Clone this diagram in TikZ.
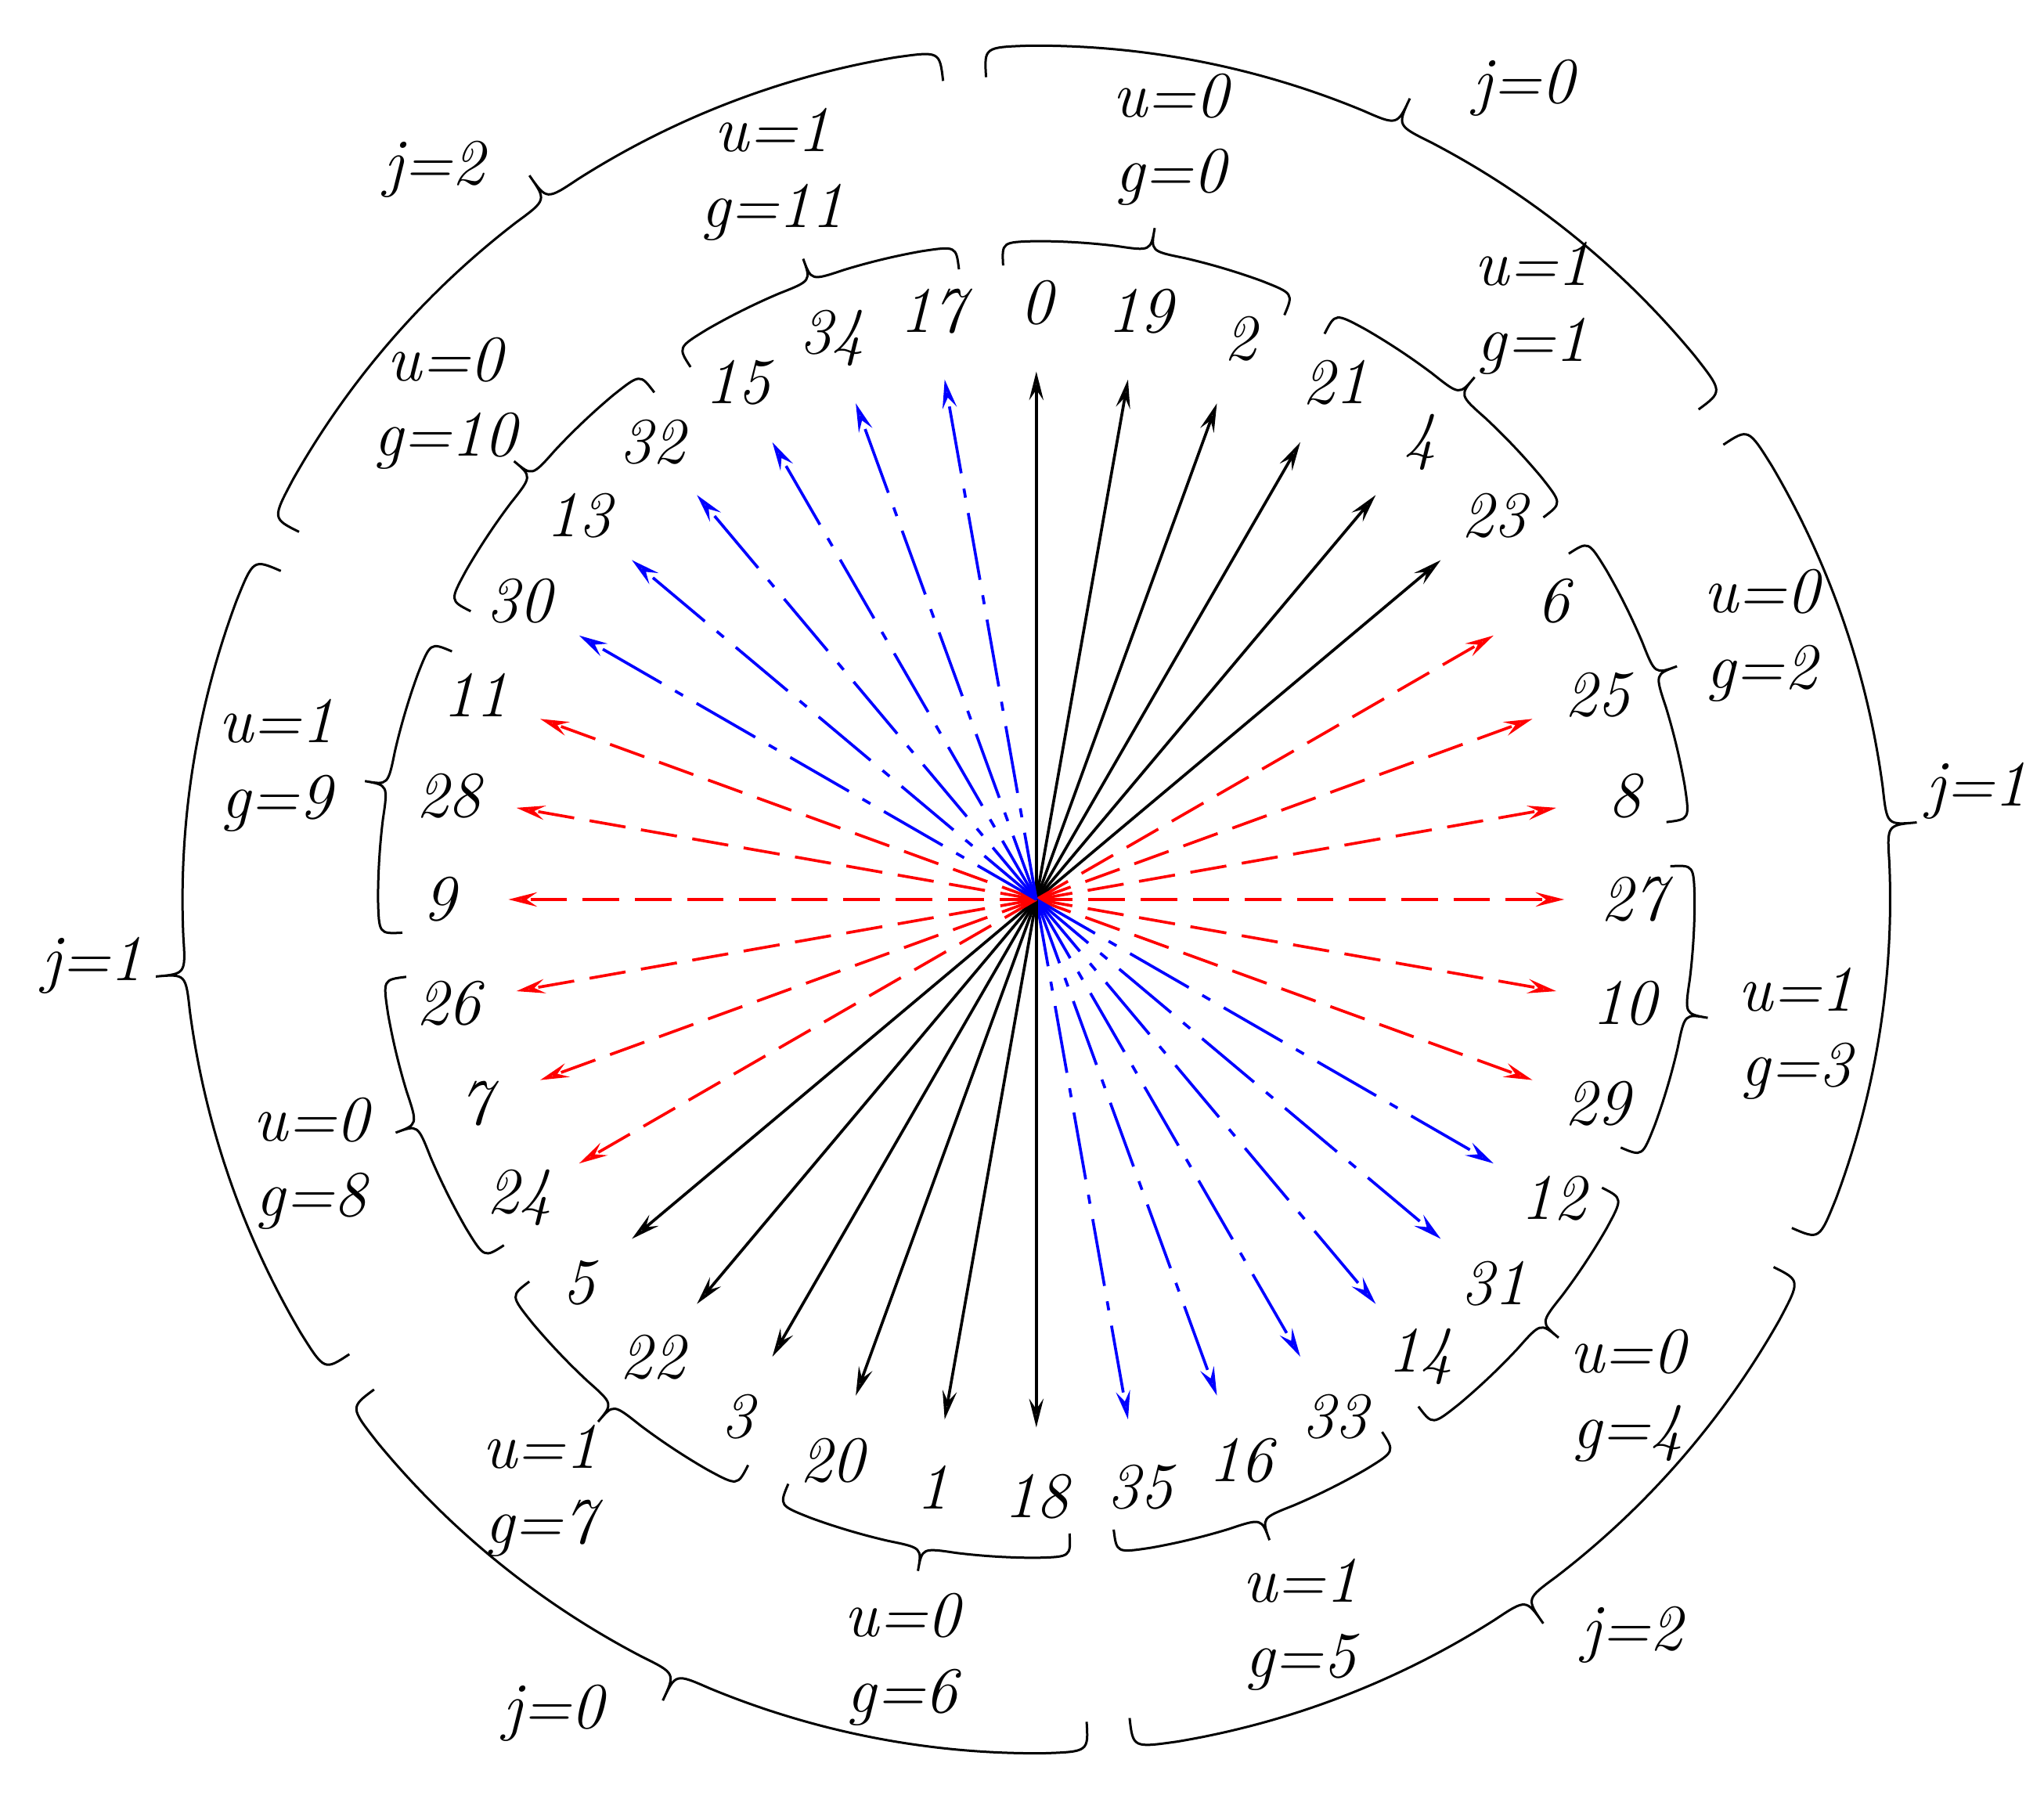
\documentclass[tikz,border=0pt]{standalone}
\usetikzlibrary{arrows.meta}
\begin{document}
\begin{tikzpicture}[x=1pt,y=1pt,
  arr/.style={line width=2.2pt,-{Stealth[length=22pt,width=11pt,inset=8pt,open]}},
  st0/.style={arr,black},
  st1/.style={arr,red,dash pattern=on 28pt off 12pt},
  st2/.style={arr,blue,dash pattern=on 52pt off 12pt on 7pt off 12pt},
  lab/.style={font=\fontsize{50}{58}\selectfont\itshape,inner sep=0pt},
  brc/.style={line width=1.8pt,black}]
\useasboundingbox (-795pt,-690pt) rectangle (773pt,690pt);
\coordinate (O) at (0,0);
\foreach \n [count=\k from 0] in {0,19,2,21,4,23,6,25,8,27,10,29,12,31,14,33,16,35,18,1,20,3,22,5,24,7,26,9,28,11,30,13,32,15,34,17}{
  \pgfmathsetmacro\ang{90-10*\k}
  \pgfmathtruncatemacro\grp{mod(int(\k/6),3)}
  \coordinate (a\n) at (\ang:405pt);
  \draw[st\grp] (O) -- (a\n);
  \node[lab] (t\n) at (\ang:458pt) {\n};
}
% inner braces
\foreach \i in {0,...,11}{
  \pgfmathsetmacro\m{80-30*\i}
  \pgfmathsetmacro\aa{\m+13}\pgfmathsetmacro\ab{\m+10}
  \pgfmathsetmacro\bb{\m-13}\pgfmathsetmacro\ba{\m-10}
  \pgfmathsetmacro\mp{\m+3}\pgfmathsetmacro\mm{\m-3}
  \pgfmathtruncatemacro\u{mod(\i,2)}
  \draw[brc] (\aa:487pt) .. controls (\aa:505pt) .. (\ab:505pt)
    arc[start angle=\ab,end angle=\mp,radius=505pt]
    .. controls (\m:505pt) .. (\m:523pt) .. controls (\m:505pt) .. (\mm:505pt)
    arc[start angle=\mm,end angle=\ba,radius=505pt]
    .. controls (\bb:505pt) .. (\bb:487pt);
  \node[lab,align=center] (g\i) at (\m:592pt) {u=\u\\g=\i};
}
% outer braces
\foreach \J/\la in {0/59,1/6.6,2/-51,3/-120.7,4/-176,5/129.5}{
  \pgfmathsetmacro\m{65-60*\J}
  \pgfmathsetmacro\aa{\m+28.5}\pgfmathsetmacro\ab{\m+25.5}
  \pgfmathsetmacro\bb{\m-28.5}\pgfmathsetmacro\ba{\m-25.5}
  \pgfmathsetmacro\mp{\m+2.5}\pgfmathsetmacro\mm{\m-2.5}
  \pgfmathtruncatemacro\jj{mod(\J,3)}
  \draw[brc] (\aa:632pt) .. controls (\aa:655pt) .. (\ab:655pt)
    arc[start angle=\ab,end angle=\mp,radius=655pt]
    .. controls (\m:655pt) .. (\m:678pt) .. controls (\m:655pt) .. (\mm:655pt)
    arc[start angle=\mm,end angle=\ba,radius=655pt]
    .. controls (\bb:655pt) .. (\bb:632pt);
  \node[lab] (j\J) at (\la:726pt) {j=\jj};
}
\end{tikzpicture}
\end{document}
